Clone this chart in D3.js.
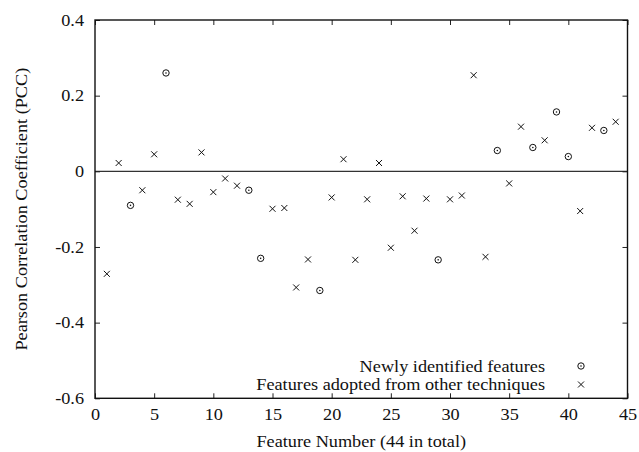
<!DOCTYPE html>
<meta charset='utf-8'>
<head>
    <title>PCC scatter</title>
    <script src='https://d3js.org/d3.v7.min.js'></script>
</head>

<style>
    body { margin: 0; background: white; }
    .frame { fill: none; stroke: #111; stroke-width: 1.4px; }
    .tick line { stroke: #222; stroke-width: 1px; }
    .mark { fill: none; stroke: #111; stroke-width: 1px; }
</style>

<svg></svg>

<script>
    var vWidth = 639;
    var vHeight = 452;

    // feature index, PCC value
    var newFeatures = [3, 6, 13, 14, 19, 29, 34, 37, 39, 40, 43];
    var pccValues = [
        -0.271, 0.022, -0.090, -0.050, 0.045, 0.260, -0.075, -0.086, 0.050, -0.055,
        -0.019, -0.038, -0.050, -0.230, -0.099, -0.097, -0.307, -0.233, -0.315, -0.069,
        0.032, -0.234, -0.074, 0.022, -0.202, -0.066, -0.157, -0.072, -0.234, -0.074,
        -0.064, 0.254, -0.226, 0.055, -0.032, 0.118, 0.063, 0.082, 0.157, 0.039,
        -0.105, 0.115, 0.108, 0.131
    ];
    var xTicks = [0, 5, 10, 15, 20, 25, 30, 35, 40, 45];
    var yTicks = [-0.6, -0.4, -0.2, 0, 0.2, 0.4];
    var legendLabels = ['Newly identified features', 'Features adopted from other techniques'];

    var vPoints = pccValues.map(function (v, i) {
        return { n: i + 1, v: v, isNew: newFeatures.indexOf(i + 1) >= 0 };
    });

    var svg = d3.select('svg').attr('width', vWidth).attr('height', vHeight);

    var x = d3.scaleLinear().domain([0, 45]).range([95, 627.5]);
    var y = d3.scaleLinear().domain([-0.6, 0.4]).range([398.3, 20]);
    var fs = 16;

    // zero line
    svg.append('line')
        .attr('x1', x(0)).attr('x2', x(45))
        .attr('y1', y(0)).attr('y2', y(0))
        .attr('stroke', '#333').attr('stroke-width', 1.2);

    // ticks on all four sides, pointing inward
    var tl = 5;
    var fmtY = function (d) { return d === 0 ? '0' : d3.format('.1f')(d).replace('\u2212', '-'); };
    svg.append('g').attr('transform', 'translate(0,' + y(-0.6) + ')')
        .call(d3.axisBottom(x).tickValues(xTicks).tickSize(-tl).tickPadding(7))
        .call(function (g) { g.select('.domain').remove(); g.selectAll('text').attr('dy', '0.95em'); });
    svg.append('g').attr('transform', 'translate(0,' + y(0.4) + ')')
        .call(d3.axisTop(x).tickValues(xTicks).tickSize(-tl).tickFormat(''))
        .call(function (g) { g.select('.domain').remove(); });
    svg.append('g').attr('transform', 'translate(' + x(0) + ',0)')
        .call(d3.axisLeft(y).tickValues(yTicks).tickSize(-tl).tickPadding(11).tickFormat(fmtY))
        .call(function (g) { g.select('.domain').remove(); });
    svg.append('g').attr('transform', 'translate(' + x(45) + ',0)')
        .call(d3.axisRight(y).tickValues(yTicks).tickSize(-tl).tickFormat(''))
        .call(function (g) { g.select('.domain').remove(); });

    svg.append('rect').attr('class', 'frame')
        .attr('x', x(0)).attr('y', y(0.4))
        .attr('width', x(45) - x(0)).attr('height', y(-0.6) - y(0.4));

    // markers
    function drawMark(sel, isNew) {
        if (isNew) {
            sel.append('circle').attr('class', 'mark').attr('r', 3.2);
            sel.append('circle').attr('r', 0.8).attr('fill', '#111');
        } else {
            sel.append('path').attr('class', 'mark').attr('d', 'M-3,-3L3,3M-3,3L3,-3');
        }
    }

    svg.selectAll('g.pt').data(vPoints).enter().append('g')
        .attr('class', 'pt')
        .attr('transform', function (d) { return 'translate(' + x(d.n) + ',' + y(d.v) + ')'; })
        .each(function (d) { drawMark(d3.select(this), d.isNew); });

    // legend
    var lg = svg.append('g');
    legendLabels.forEach(function (t, i) {
        var yy = 366 + i * 18.5;
        lg.append('text').attr('x', 545).attr('y', yy).attr('dy', '0.35em')
            .attr('text-anchor', 'end').text(t);
        drawMark(lg.append('g').attr('transform', 'translate(581,' + yy + ')'), i === 0);
    });

    // axis titles
    svg.append('text').attr('x', (x(0) + x(45)) / 2).attr('y', 447)
        .attr('text-anchor', 'middle')
        .text('Feature Number (44 in total)');
    svg.append('text').attr('transform', 'translate(27,' + (y(-0.1)) + ') rotate(-90)')
        .attr('text-anchor', 'middle')
        .text('Pearson Correlation Coefficient (PCC)');

    // serif text, slightly widened like the original
    svg.selectAll('text')
        .attr('font-family', "'Liberation Serif', 'DejaVu Serif', serif")
        .attr('font-size', fs)
        .attr('fill', '#111')
        .each(function () {
            var w = this.getComputedTextLength();
            d3.select(this).attr('textLength', w * 1.14).attr('lengthAdjust', 'spacingAndGlyphs');
        });
</script>
